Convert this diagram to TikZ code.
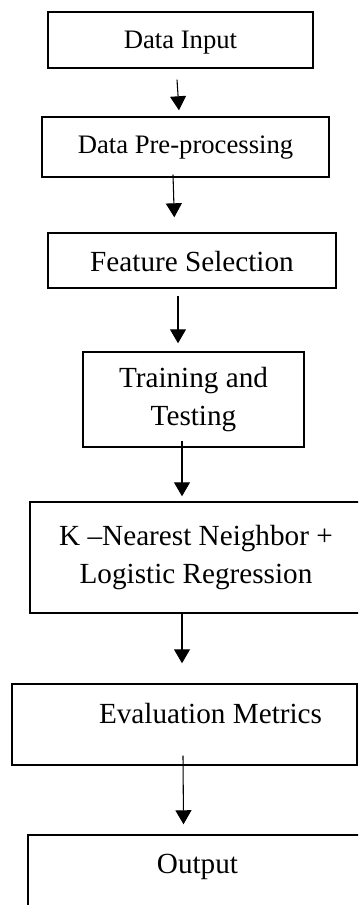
\documentclass[tikz,border=0pt]{standalone}
\usepackage{fontspec}
\setmainfont{Liberation Serif}
\usetikzlibrary{arrows.meta,calc}

\tikzset{every picture/.style={line width=0.75pt}}
\tikzset{
	stepbox/.style={draw, line width=1.1pt, inner xsep=0pt, inner ysep=0pt, font=\fontsize{21.9}{28.5}\selectfont},
	smallbox/.style={stepbox, font=\fontsize{20}{24}\selectfont},
	flow/.style={line width=0.8pt, -{Triangle[width=12pt,length=10.5pt]}},
}

\begin{document}
\begin{tikzpicture}[x=0.75pt,y=0.75pt,yscale=-1,xscale=1]
	\useasboundingbox (0,0) rectangle (358,905);
	\clip (0,0) rectangle (358,905);

	% Boxes
	\node[smallbox, minimum width=198.75pt, text height=27.2pt, text depth=14.8pt] (input) at (180.5,40) {Data Input};
	\node[smallbox, minimum width=215.25pt, text height=27.75pt, text depth=17.25pt] (prep) at (185.5,147) {Data Pre-processing};
	\node[stepbox, minimum width=216pt, text height=29pt, text depth=12.2pt] (feat) at (192,260.5) {Feature Selection};
	\node[stepbox, minimum width=165.75pt, minimum height=71.25pt, align=center] (train) at (193.5,399.5) {Training and\\Testing};
	\node[stepbox, minimum width=249pt, minimum height=83.25pt, align=center] (knn) at (196,557.5) {K --Nearest Neighbor +\\Logistic Regression};
	\node[stepbox, minimum width=258.75pt, text height=29.25pt, text depth=31.5pt] (eval) at (184.5,724.5) {\hspace*{39pt}Evaluation Metrics};
	\node[stepbox, minimum width=254.25pt, text height=28.5pt, text depth=46.5pt] (out) at (197.5,885) {Output};

	% Arrows
	\draw[flow] ($(input.south)+(-3.5,11)$) -- ($(prep.north)+(-6.5,-6)$);
	\draw[flow] ($(prep.south)+(-12.5,-3)$) -- ($(feat.north)+(-17.7,-15)$);
	\draw[flow] ($(feat.south)+(-14,7)$) -- ($(train.north)+(-15.5,-8)$);
	\draw[flow] ($(train.south)+(-11.5,-7)$) -- ($(knn.north)+(-14,-5)$);
	\draw[flow] ($(knn.south)+(-14,0)$) -- ($(eval.north)+(-2.5,-20)$);
	\draw[flow] ($(eval.south)+(-1.5,-10)$) -- ($(out.north)+(-14,-10)$);

\end{tikzpicture}
\end{document}
